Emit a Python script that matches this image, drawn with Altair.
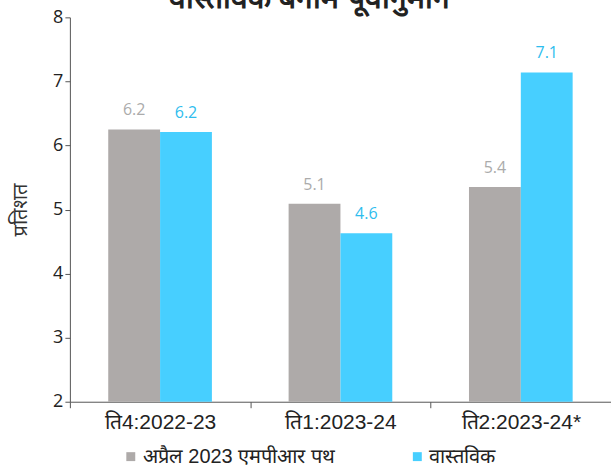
import altair as alt
import pandas as pd

quarters = ["ति4:2022-23", "ति1:2023-24", "ति2:2023-24*"]
series = ["अप्रैल 2023 एमपीआर पथ", "वास्तविक"]
projected = [6.25, 5.09, 5.35]
actual = [6.21, 4.63, 7.14]
projected_labels = ["6.2", "5.1", "5.4"]
actual_labels = ["6.2", "4.6", "7.1"]

rows = []
for i, q in enumerate(quarters):
    rows.append({"q": q, "s": series[0], "v": projected[i], "lab": projected_labels[i]})
    rows.append({"q": q, "s": series[1], "v": actual[i], "lab": actual_labels[i]})
df = pd.DataFrame(rows)

colors = ["#AEAAA9", "#47CFFF"]
text_colors = ["#ABABAB", "#2EBDEE"]

x = alt.X("q:N", sort=quarters, title=None,
          scale=alt.Scale(paddingInner=0, paddingOuter=0),
          axis=alt.Axis(labelAngle=0, tickBand="extent", labelFont="Liberation Sans",
                        labelFontSize=21, labelColor="#222", labelPadding=4,
                        tickSize=6, domainColor="#555", tickColor="#555"))
xoff = alt.XOffset("s:N", sort=series, scale=alt.Scale(paddingInner=0, paddingOuter=0.74))

base = alt.Chart(df).encode(x=x, xOffset=xoff)

bars = base.mark_bar().encode(
    y=alt.Y("v:Q", scale=alt.Scale(domain=[2, 8], zero=False, nice=False),
            title="प्रतिशत",
            axis=alt.Axis(values=[2, 3, 4, 5, 6, 7, 8], format="d", grid=False,
                          labelFont="Open Sans",
                          labelFontSize=18, labelColor="#222", titleFont="Noto Sans",
                          titleFontSize=20, titleFontWeight="normal", titleColor="#333",
                          titlePadding=22, tickSize=5, domainColor="#555", tickColor="#555")),
    y2=alt.datum(2),
    color=alt.Color("s:N", sort=series, scale=alt.Scale(domain=series, range=colors),
                    legend=alt.Legend(title=None, orient="none", direction="horizontal",
                                      legendX=51, legendY=430, symbolType="square",
                                      symbolSize=80, symbolStrokeWidth=0, symbolOpacity=1,
                                      labelFont="Liberation Sans", labelFontSize=20,
                                      labelColor="#222", columnPadding=72, labelOffset=2,
                                      labelLimit=400)),
)

labels = base.mark_text(baseline="bottom", dy=-11, fontSize=16, font="Open Sans").encode(
    y="v:Q",
    text="lab:N",
    color=alt.Color("s:N", sort=series, scale=alt.Scale(domain=series, range=text_colors),
                    legend=None),
)

chart = alt.layer(bars, labels).resolve_scale(color="independent").properties(
    width=542, height=385,
    title=alt.TitleParams("वास्तविक बनाम पूर्वानुमान", fontSize=30, fontWeight="bold",
                          color="#222", offset=0, dx=-31, dy=6),
    autosize=alt.AutoSizeParams(type="none"),
    padding={"left": 70, "top": 17, "right": 0, "bottom": 64},
    background="white",
).configure_view(stroke=None)

chart.save("out.html", embed_options={"renderer": "svg", "actions": False})
